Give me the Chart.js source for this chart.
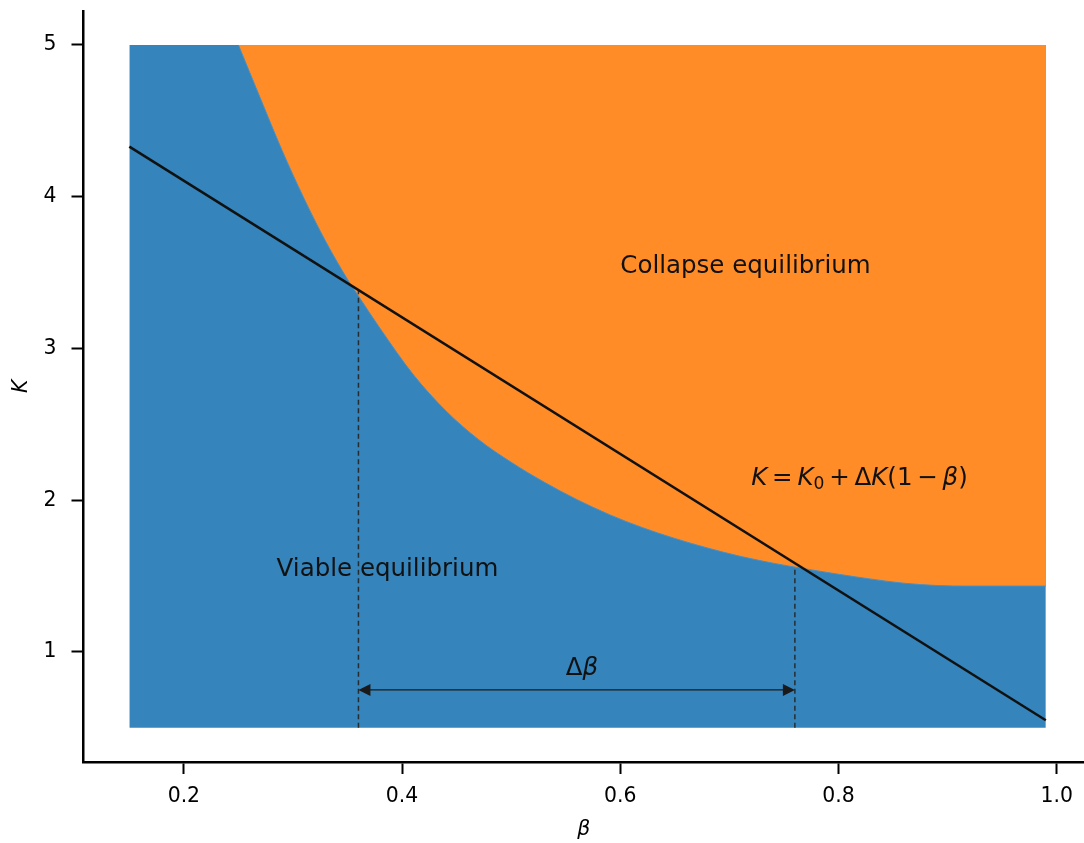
<!DOCTYPE html>
<html>
<head>
<meta charset="utf-8">
<script src="https://cdn.jsdelivr.net/npm/chart.js@4.4.1/dist/chart.umd.min.js"></script>
<style>
  html, body { margin: 0; padding: 0; background: #fff; }
  canvas { display: block; }
</style>
</head>
<body>
<canvas id="phaseChart" width="1084" height="843"></canvas>
<script>
// boundary between viable and collapse equilibrium
const boundaryBeta = [0.25, 0.27, 0.29, 0.31, 0.33, 0.35, 0.36, 0.38, 0.41, 0.44, 0.47, 0.50, 0.53, 0.56,
                      0.59, 0.62, 0.65, 0.68, 0.71, 0.74, 0.77, 0.80, 0.83, 0.86, 0.89, 0.92, 0.95, 0.99];
const boundaryK = [5.00, 4.65, 4.305, 3.99, 3.705, 3.455, 3.345, 3.13, 2.83, 2.59, 2.40, 2.25, 2.12, 2.005,
                   1.905, 1.820, 1.748, 1.685, 1.630, 1.585, 1.547, 1.512, 1.480, 1.453, 1.438, 1.434, 1.434, 1.434];

// K = K0 + dK (1 - beta), end points
const lineBeta = [0.15, 0.99];
const lineK = [4.33, 0.55];

// extent of the shaded grid
const regionBeta = [0.15, 0.99];
const kMin = 0.5;
const kMax = 5;

// crossing points and the delta-beta arrow
const betaLow = 0.36;
const betaHigh = 0.76;
const kAtLow = 3.38;
const kAtHigh = 1.55;
const arrowK = 0.75;

const xTicks = [0.2, 0.4, 0.6, 0.8, 1.0];
const yTicks = [1, 2, 3, 4, 5];

const FONT = '"DejaVu Sans", Verdana, sans-serif';
const TICK_SIZE = 20.4;
const TEXT_SIZE = 24.5;

const pts = (xs, ys) => xs.map((x, i) => ({ x: x, y: ys[i] }));

// text labels, drawn left / baseline at data coords like ax.text
const annotations = [
    { parts: [['Collapse equilibrium', '']], x: 0.6, y: 3.5 },
    { parts: [['Viable equilibrium', '']], x: 0.285, y: 1.5 },
    { parts: [['\u0394', ''], ['\u03b2', 'i']], x: 0.55, y: 0.85 },
    { parts: [['K', 'i'], ['=', 'op'], ['K', 'i'], ['0', 'sub'], ['+', 'op'], ['\u0394', ''], ['K', 'i'],
              ['(1', ''], ['\u2212', 'op'], ['\u03b2', 'i'], [')', '']], x: 0.72, y: 2.1 },
];

const OP_GAP = 4.8;

function drawParts(ctx, parts, x, y) {
    let cx = x;
    parts.forEach(([txt, kind]) => {
        let size = TEXT_SIZE;
        let dy = 0;
        let style = '';
        if (kind === 'i') style = 'italic ';
        if (kind === 'sub') { size = TEXT_SIZE * 0.7; dy = 4; }
        if (kind === 'op') cx += OP_GAP;
        ctx.font = style + size + 'px ' + FONT;
        ctx.fillText(txt, cx, y + dy);
        cx += ctx.measureText(txt).width;
        if (kind === 'op') cx += OP_GAP;
    });
}

const overlayPlugin = {
    id: 'overlay',
    afterDatasetsDraw(chart) {
        const ctx = chart.ctx;
        const xs = chart.scales.x;
        const ys = chart.scales.y;
        ctx.save();

        // arrow heads for delta beta
        const ay = ys.getPixelForValue(arrowK);
        const xl = xs.getPixelForValue(betaLow);
        const xr = xs.getPixelForValue(betaHigh);
        const headLen = 12, headHalf = 6;
        ctx.fillStyle = '#1a1a1a';
        ctx.beginPath();
        ctx.moveTo(xl, ay);
        ctx.lineTo(xl + headLen, ay - headHalf);
        ctx.lineTo(xl + headLen, ay + headHalf);
        ctx.closePath();
        ctx.fill();
        ctx.beginPath();
        ctx.moveTo(xr, ay);
        ctx.lineTo(xr - headLen, ay - headHalf);
        ctx.lineTo(xr - headLen, ay + headHalf);
        ctx.closePath();
        ctx.fill();

        ctx.fillStyle = '#111';
        ctx.textAlign = 'left';
        ctx.textBaseline = 'alphabetic';
        annotations.forEach(a => {
            drawParts(ctx, a.parts, xs.getPixelForValue(a.x), ys.getPixelForValue(a.y));
        });
        ctx.restore();
    }
};

const ctx = document.getElementById('phaseChart').getContext('2d');
new Chart(ctx, {
    type: 'line',
    data: {
        datasets: [
            {
                label: 'viable',
                data: pts(regionBeta, [kMax, kMax]),
                fill: { value: kMin },
                backgroundColor: '#3584bb',
                borderColor: 'rgba(0,0,0,0)',
                borderWidth: 0,
                pointRadius: 0,
                order: 5,
            },
            {
                label: 'collapse',
                data: pts(boundaryBeta, boundaryK),
                fill: { value: kMax },
                backgroundColor: '#ff8c26',
                borderColor: '#4a8fc2',
                borderWidth: 1,
                cubicInterpolationMode: 'monotone',
                pointRadius: 0,
                order: 4,
            },
            {
                label: 'low',
                data: [{ x: betaLow, y: kMin }, { x: betaLow, y: kAtLow }],
                borderColor: 'rgba(35,35,35,0.9)',
                borderWidth: 1.5,
                borderDash: [5, 3.5],
                pointRadius: 0,
                fill: false,
                order: 3,
            },
            {
                label: 'high',
                data: [{ x: betaHigh, y: kMin }, { x: betaHigh, y: kAtHigh }],
                borderColor: 'rgba(35,35,35,0.9)',
                borderWidth: 1.5,
                borderDash: [5, 3.5],
                pointRadius: 0,
                fill: false,
                order: 3,
            },
            {
                label: 'arrow',
                data: [{ x: betaLow + 0.005, y: arrowK }, { x: betaHigh - 0.005, y: arrowK }],
                borderColor: '#1a1a1a',
                borderWidth: 1.3,
                pointRadius: 0,
                fill: false,
                order: 2,
            },
            {
                label: 'K line',
                data: pts(lineBeta, lineK),
                borderColor: '#111',
                borderWidth: 2.5,
                pointRadius: 0,
                fill: false,
                order: 1,
            },
        ],
    },
    options: {
        responsive: false,
        animation: false,
        events: [],
        layout: { padding: { top: 10.8, left: 0, right: 0, bottom: 0 } },
        plugins: { legend: { display: false }, tooltip: { enabled: false } },
        scales: {
            x: {
                type: 'linear',
                min: 0.108,
                max: 1.025,
                afterBuildTicks: s => { s.ticks = xTicks.map(v => ({ value: v })); },
                afterFit: s => { s.height = 81; s.paddingLeft = 0; s.paddingRight = 0; },
                ticks: {
                    callback: v => v.toFixed(1),
                    font: { family: FONT, size: TICK_SIZE },
                    color: '#000',
                    padding: 10,
                    maxRotation: 0,
                    autoSkip: false,
                },
                grid: { drawOnChartArea: false, tickLength: 12, tickWidth: 2, tickColor: '#000' },
                border: { display: true, width: 2.5, color: '#000' },
                title: {
                    display: true,
                    text: '\u03b2',
                    font: { family: FONT, size: TICK_SIZE, style: 'italic' },
                    color: '#000',
                    padding: { top: 0, bottom: 1.5 },
                },
            },
            y: {
                type: 'linear',
                min: 0.275,
                max: 5.225,
                afterBuildTicks: s => { s.ticks = yTicks.map(v => ({ value: v })); },
                afterFit: s => { s.width = 83.5; s.paddingTop = 0; s.paddingBottom = 0; },
                ticks: {
                    callback: v => String(v),
                    font: { family: FONT, size: TICK_SIZE },
                    color: '#000',
                    padding: 15,
                    autoSkip: false,
                },
                grid: { drawOnChartArea: false, tickLength: 12, tickWidth: 2, tickColor: '#000' },
                border: { display: true, width: 2.5, color: '#000' },
                title: {
                    display: true,
                    text: 'K',
                    font: { family: FONT, size: TICK_SIZE, style: 'italic' },
                    color: '#000',
                    padding: { top: 9, bottom: 0 },
                },
            },
        },
    },
    plugins: [overlayPlugin],
});
</script>
</body>
</html>
